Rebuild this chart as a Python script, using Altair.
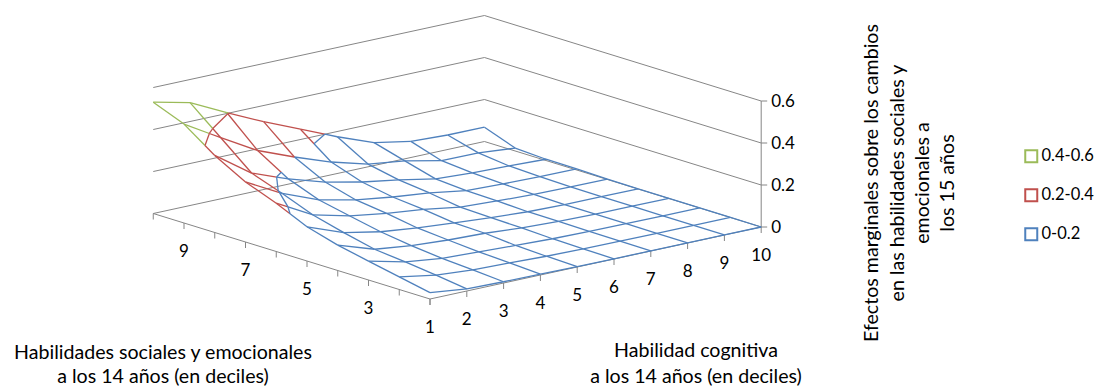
import altair as alt
import pandas as pd

# surface heights: one row per social-emotional decile (1..10), one value per cognitive decile (1..10)
Z_ROWS = [
    [.030, .010, .006, .004, .002, .001, .001, .001, .001, .000],
    [.060, .030, .017, .012, .006, .003, .002, .001, .001, .001],
    [.090, .048, .027, .020, .012, .006, .003, .002, .001, .001],
    [.121, .063, .042, .031, .025, .012, .005, .002, .002, .001],
    [.163, .097, .063, .043, .029, .016, .006, .002, .002, .001],
    [.230, .136, .093, .067, .048, .021, .012, .005, .003, .002],
    [.286, .193, .124, .086, .062, .043, .016, .010, .007, .005],
    [.367, .245, .179, .126, .088, .060, .027, .017, .012, .006],
    [.471, .368, .269, .200, .138, .090, .067, .030, .029, .014],
    [.530, .490, .404, .323, .249, .175, .109, .077, .069, .068],
]
COG_TICKS = [1, 2, 3, 4, 5, 6, 7, 8, 9, 10]
SOC_TICKS = [1, 3, 5, 7, 9]
Z_TICKS = [0, 0.2, 0.4, 0.6]
BANDS = ["0.4-0.6", "0.2-0.4", "0-0.2"]
BAND_COLORS = ["#9BBB59", "#C0504D", "#4F81BD"]
FONT = "Lato"
FS = 19.6
FS_NUM = 17
FS_LEG = 16.5


# oblique projection of the chart's 3-D box onto the page
def px(i, j):
    return 430.0 + (i - 1) * 36.8 - (j - 1) * 30.75


def py(i, j, z=0.0):
    return 299.0 - (i - 1) * 8.0 - (j - 1) * 9.5 - z * 210.0


def zat(i, j):
    return Z_ROWS[j - 1][i - 1]


def band(z):
    return BANDS[2] if z < 0.2 else BANDS[1] if z < 0.4 else BANDS[0]


wire, frame = [], []


def add_frame(points):
    n = len(frame)
    sid = f"f{n}"
    for k, (a, b) in enumerate(points):
        frame.append({"x": a, "y": b, "s": sid, "k": k})


sid_count = [0]


def add_wire(p, q, level_band):
    sid_count[0] += 1
    for k, (a, b, c) in enumerate((p, q)):
        wire.append({"x": px(a, b), "y": py(a, b, c), "s": f"w{sid_count[0]}", "k": k, "band": level_band})


def split_edge(p, q):
    z0, z1 = p[2], q[2]
    ts = [0.0]
    for lev in (0.2, 0.4):
        if (z0 - lev) * (z1 - lev) < 0:
            ts.append((lev - z0) / (z1 - z0))
    ts.append(1.0)
    ts.sort()
    pts = [tuple(p[m] + t * (q[m] - p[m]) for m in range(3)) for t in ts]
    for a, b in zip(pts, pts[1:]):
        add_wire(a, b, band((a[2] + b[2]) / 2))


for j in range(1, 11):
    for i in range(1, 11):
        if i < 10:
            split_edge((i, j, zat(i, j)), (i + 1, j, zat(i + 1, j)))
        if j < 10:
            split_edge((i, j, zat(i, j)), (i, j + 1, zat(i, j + 1)))

# band boundaries inside each cell
for lev, col in ((0.2, BANDS[2]), (0.4, BANDS[1])):
    for j in range(1, 10):
        for i in range(1, 10):
            corners = [(i, j), (i + 1, j), (i + 1, j + 1), (i, j + 1)]
            hits = []
            for a, b in zip(corners, corners[1:] + corners[:1]):
                z0, z1 = zat(*a), zat(*b)
                if (z0 - lev) * (z1 - lev) < 0:
                    t = (lev - z0) / (z1 - z0)
                    hits.append((a[0] + t * (b[0] - a[0]), a[1] + t * (b[1] - a[1]), lev))
            for m in range(0, len(hits) - 1, 2):
                add_wire(hits[m], hits[m + 1], col)

# box walls and floor
for z in Z_TICKS:
    add_frame([(px(1, 10), py(1, 10, z)), (px(10, 10), py(10, 10, z)), (px(10, 1), py(10, 1, z))])
add_frame([(px(1, 10), py(1, 10)), (px(1, 1), py(1, 1)), (px(10, 1), py(10, 1))])
add_frame([(px(10, 1), py(10, 1)), (px(10, 1), py(10, 1, 0.6))])
for i in COG_TICKS:
    add_frame([(px(i, 1), py(i, 1)), (px(i, 1), py(i, 1) + 6)])
for j in range(1, 11):
    add_frame([(px(1, j), py(1, j)), (px(1, j), py(1, j) + 6)])
for z in Z_TICKS:
    add_frame([(px(10, 1), py(10, 1, z)), (px(10, 1) + 6, py(10, 1, z))])

num_labels = []
for i in COG_TICKS:
    if i > 1:
        num_labels.append({"x": px(i, 1), "y": py(i, 1) + 28.5, "t": str(i), "a": "center"})
for j in SOC_TICKS:
    num_labels.append({"x": px(1, j), "y": py(1, j) + 28.5, "t": str(j), "a": "center"})
for z in Z_TICKS:
    num_labels.append({"x": px(10, 1) + 10, "y": py(10, 1, z) + 0.5, "t": str(z) if z else "0", "a": "left"})
labels = [
    {"x": 163, "y": 353, "t": "Habilidades sociales y emocionales"},
    {"x": 163, "y": 376.5, "t": "a los 14 años (en deciles)"},
    {"x": 696, "y": 350.5, "t": "Habilidad cognitiva"},
    {"x": 696, "y": 376.5, "t": "a los 14 años (en deciles)"},
]
vlabels = [
    {"x": 872, "y": 183, "t": "Efectos marginales sobre los cambios"},
    {"x": 898, "y": 183, "t": "en las habilidades sociales y"},
    {"x": 923, "y": 183, "t": "emocionales a"},
    {"x": 948, "y": 183, "t": "los 15 años"},
]

W, H = 1086, 379
X = alt.X("x:Q", scale=alt.Scale(domain=[8, 8 + W], range=[0, W]), axis=None)
Y = alt.Y("y:Q", scale=alt.Scale(domain=[8 + H, 8], range=[H, 0]), axis=None)

frame_layer = alt.Chart(pd.DataFrame(frame)).mark_line(color="#868686", strokeWidth=1).encode(
    x=X, y=Y, detail="s:N", order="k:Q"
)
wire_layer = alt.Chart(pd.DataFrame(wire)).mark_line(strokeWidth=1.3).encode(
    x=X, y=Y, detail="s:N", order="k:Q",
    color=alt.Color(
        "band:N",
        scale=alt.Scale(domain=BANDS, range=BAND_COLORS),
        legend=alt.Legend(
            orient="none", legendX=1015, legendY=140, title=None, symbolType="square",
            symbolSize=144, symbolStrokeWidth=2, symbolFillColor="transparent",
            rowPadding=18, labelFont=FONT, labelFontSize=FS_LEG, labelColor="#000000",
            labelOffset=2, padding=0,
        ),
    ),
)
num_df = pd.DataFrame(num_labels)
text_layers = [
    alt.Chart(num_df[num_df.a == a]).mark_text(font=FONT, fontSize=FS_NUM, color="#000000", align=a, baseline="middle").encode(
        x=X, y=Y, text="t:N"
    )
    for a in ("center", "left")
]
title_layer = alt.Chart(pd.DataFrame(labels)).mark_text(
    font=FONT, fontSize=FS, color="#000000", align="center", baseline="middle"
).encode(x=X, y=Y, text="t:N")
v_layer = alt.Chart(pd.DataFrame(vlabels)).mark_text(
    font=FONT, fontSize=FS, color="#000000", align="center", baseline="middle", angle=270
).encode(x=X, y=Y, text="t:N")

chart = alt.layer(frame_layer, wire_layer, *text_layers, title_layer, v_layer).properties(
    width=W, height=H, padding=0, autosize=alt.AutoSizeParams(type="none", contains="padding")
).configure_view(stroke=None)

chart.save("out.html", embed_options={"renderer": "svg", "actions": False})
